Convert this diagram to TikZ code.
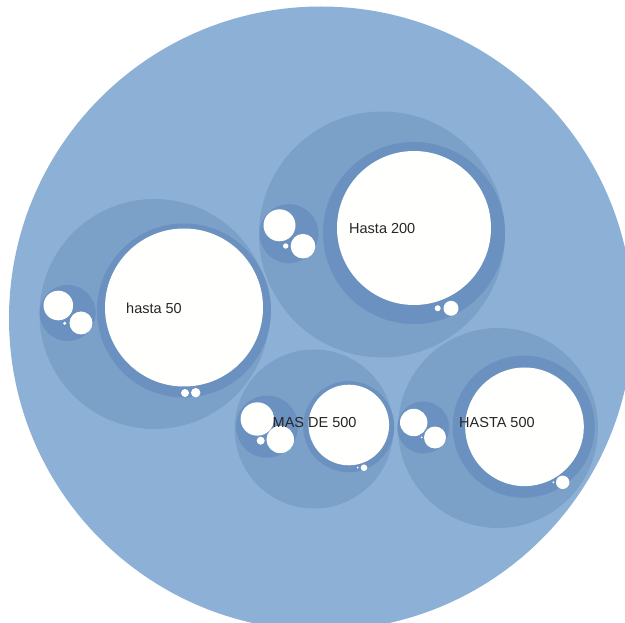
\documentclass[tikz,border=0pt]{standalone}
\usepackage{fontspec}
\setmainfont{Liberation Sans}
\definecolor{rootc}{RGB}{141,177,214}
\definecolor{grpc}{RGB}{123,161,201}
\definecolor{subc}{RGB}{106,145,191}
\definecolor{leafc}{RGB}{255,255,253}
\newcommand\bub[5]{\node[bubble,fill=#5,minimum size=#4*2pt] (#1) at (#2pt,-#3pt) {};}
\begin{document}
\begin{tikzpicture}[
  bubble/.style={circle,draw=none,inner sep=0pt,outer sep=0pt},
  lbl/.style={anchor=west,inner sep=0pt,font=\fontsize{14.5}{17}\selectfont,text=black!85}
]
\useasboundingbox (0pt,0pt) rectangle (625pt,-623pt);
\fill[white] (0pt,0pt) rectangle (625pt,-623pt);
\bub{root}{321}{318.5}{312}{rootc}
% hasta 50
\bub{gA}{154.5}{314}{115}{grpc}
\bub{gAr}{184}{310.5}{87}{subc}
\bub{gAw}{184}{307.5}{79}{leafc}
\bub{gAs1}{185}{393}{4}{leafc}
\bub{gAs2}{195.7}{392.7}{4.7}{leafc}
\bub{gAc}{67.7}{313}{28}{subc}
\bub{gAc1}{58.3}{305.5}{14.8}{leafc}
\bub{gAc2}{81}{323}{11.5}{leafc}
\bub{gAc3}{64.7}{323.3}{1.7}{leafc}
% Hasta 200
\bub{gB}{382}{234.5}{123}{grpc}
\bub{gBr}{414}{233}{91}{subc}
\bub{gBw}{414}{228}{77}{leafc}
\bub{gBs1}{451}{308.3}{7.5}{leafc}
\bub{gBs2}{437.7}{308.3}{3}{leafc}
\bub{gBc}{289}{233.7}{29.5}{subc}
\bub{gBc1}{279.5}{225.3}{16}{leafc}
\bub{gBc2}{303}{246.2}{12.3}{leafc}
\bub{gBc3}{285.7}{246}{2.7}{leafc}
% MAS DE 500
\bub{gC}{314}{429}{79.5}{grpc}
\bub{gCr}{348.7}{426.7}{45.5}{subc}
\bub{gCw}{348.8}{425}{40.3}{leafc}
\bub{gCs1}{364}{467.7}{3.3}{leafc}
\bub{gCs2}{357.7}{467.7}{1}{leafc}
\bub{gCc}{267}{426.7}{31}{subc}
\bub{gCc1}{257.3}{419}{16.7}{leafc}
\bub{gCc2}{280.3}{439.5}{13.7}{leafc}
\bub{gCc3}{260.7}{440.7}{4}{leafc}
% HASTA 500
\bub{gD}{498}{428}{100}{grpc}
\bub{gDr}{523.7}{426.7}{71}{subc}
\bub{gDw}{524.5}{426.8}{59.3}{leafc}
\bub{gDs1}{562.7}{482.3}{6.7}{leafc}
\bub{gDs2}{553.3}{482.3}{1}{leafc}
\bub{gDc}{423.3}{427.5}{26}{subc}
\bub{gDc1}{413.7}{422.5}{13.7}{leafc}
\bub{gDc2}{435}{437.5}{11}{leafc}
\bub{gDc3}{421.7}{437.3}{1}{leafc}
% labels
\node[lbl] (tA) at (126pt,-308pt) {hasta 50};
\node[lbl] (tB) at (349pt,-229pt) {Hasta 200};
\node[lbl] (tC) at (272.5pt,-423pt) {MAS DE 500};
\node[lbl] (tD) at (459pt,-422.5pt) {HASTA 500};
\end{tikzpicture}
\end{document}
